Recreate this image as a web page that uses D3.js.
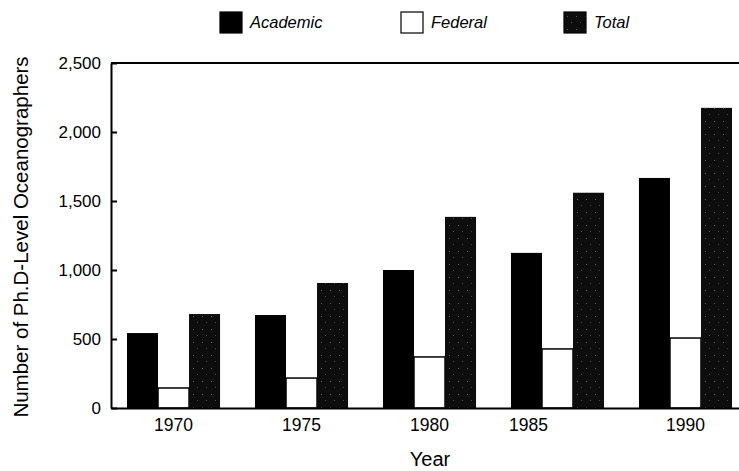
<!DOCTYPE html>
<html>
<head>
<meta charset="utf-8">
<script src="https://cdn.jsdelivr.net/npm/d3@7"></script>
<style>
  body { margin: 0; background: #fff; }
  text { font-family: "Liberation Sans", Arial, sans-serif; fill: #000; }
</style>
</head>
<body>
<div id="chart"></div>
<script>
// data
var years = ["1970", "1975", "1980", "1985", "1990"];
var series = ["Academic", "Federal", "Total"];
var academic = [543, 674, 1000, 1124, 1667];
var federal = [145, 217, 370, 428, 507];
var total = [681, 906, 1385, 1560, 2175];
var yTicks = [0, 500, 1000, 1500, 2000, 2500];
// the original prints the 1985 label off centre
var labelShift = {"1985": -29};

var width = 739, height = 471,
	margin = {top: 63, right: -9, bottom: 63, left: 111};

var svg = d3.select("#chart").append("svg")
	.attr("width", width)
	.attr("height", height);

// stippled fill for the Total bars
var pat = svg.append("defs").append("pattern")
	.attr("id", "stipple")
	.attr("patternUnits", "userSpaceOnUse")
	.attr("width", 9).attr("height", 13);
pat.append("rect").attr("width", 9).attr("height", 13).attr("fill", "#0d0d0d");
pat.append("rect").attr("x", 3).attr("y", 4).attr("width", 1).attr("height", 1).attr("fill", "#5a5a5a");
pat.append("rect").attr("x", 7).attr("y", 10).attr("width", 1).attr("height", 1).attr("fill", "#444");

var fills = {Academic: "#000", Federal: "#fff", Total: "url(#stipple)"};

var x0 = d3.scaleBand()
	.domain(years)
	.range([margin.left, width - margin.right])
	.paddingInner(0.273)
	.paddingOuter(0.125);

var x1 = d3.scaleBand()
	.domain(series)
	.range([0, x0.bandwidth()]);

var y = d3.scaleLinear()
	.domain([0, 2500])
	.range([height - margin.bottom, margin.top]);

var rows = years.map(function(yr, i) {
	return {year: yr, values: [
		{key: "Academic", value: academic[i]},
		{key: "Federal", value: federal[i]},
		{key: "Total", value: total[i]}
	]};
});

var g = svg.selectAll("g.group")
	.data(rows)
	.enter().append("g")
	.attr("class", "group")
	.attr("transform", function(d) { return "translate(" + x0(d.year) + ",0)"; });

g.selectAll("rect")
	.data(function(d) { return d.values; })
	.enter().append("rect")
	.attr("x", function(d) { return x1(d.key); })
	.attr("width", x1.bandwidth())
	.attr("y", function(d) { return y(d.value); })
	.attr("height", function(d) { return y(0) - y(d.value); })
	.attr("fill", function(d) { return fills[d.key]; })
	.attr("stroke", function(d) { return d.key == "Federal" ? "#000" : "none"; })
	.attr("stroke-width", 1.5);

// top frame line
svg.append("line")
	.attr("x1", margin.left).attr("x2", width)
	.attr("y1", margin.top).attr("y2", margin.top)
	.attr("stroke", "#000").attr("stroke-width", 2);

var yAxis = d3.axisLeft(y)
	.tickValues(yTicks)
	.tickSize(-6)
	.tickSizeOuter(0)
	.tickPadding(10)
	.tickFormat(d3.format(","));

var ya = svg.append("g")
	.attr("transform", "translate(" + margin.left + ",0)")
	.call(yAxis);
ya.selectAll("path, line").attr("stroke", "#000").attr("stroke-width", 2);
ya.selectAll("text").style("font-size", "17px");

var xAxis = d3.axisBottom(x0).tickSize(0).tickSizeOuter(0).tickPadding(11);
var xa = svg.append("g")
	.attr("transform", "translate(0," + y(0) + ")")
	.call(xAxis);
xa.select("path").attr("stroke", "#000").attr("stroke-width", 2);
xa.selectAll("text")
	.style("font-size", "17.5px")
	.attr("dx", function(d) { return labelShift[d] || 0; });

svg.append("text")
	.attr("x", 430).attr("y", 466)
	.attr("text-anchor", "middle")
	.style("font-size", "20px")
	.text("Year");

svg.append("text")
	.attr("transform", "translate(28,237) rotate(-90)")
	.attr("text-anchor", "middle")
	.style("font-size", "20.5px")
	.text("Number of Ph.D-Level Oceanographers");

// legend
var legendX = [220, 401, 564];
var leg = svg.selectAll("g.legend")
	.data(series)
	.enter().append("g")
	.attr("class", "legend")
	.attr("transform", function(d, i) { return "translate(" + legendX[i] + ",12)"; });
leg.append("rect")
	.attr("width", 22).attr("height", 21)
	.attr("fill", function(d) { return fills[d]; })
	.attr("stroke", "#000").attr("stroke-width", 1.2);
leg.append("text")
	.attr("x", 30).attr("y", 16)
	.style("font-size", "16.5px")
	.style("font-style", "italic")
	.text(function(d) { return d; });
</script>
</body>
</html>
